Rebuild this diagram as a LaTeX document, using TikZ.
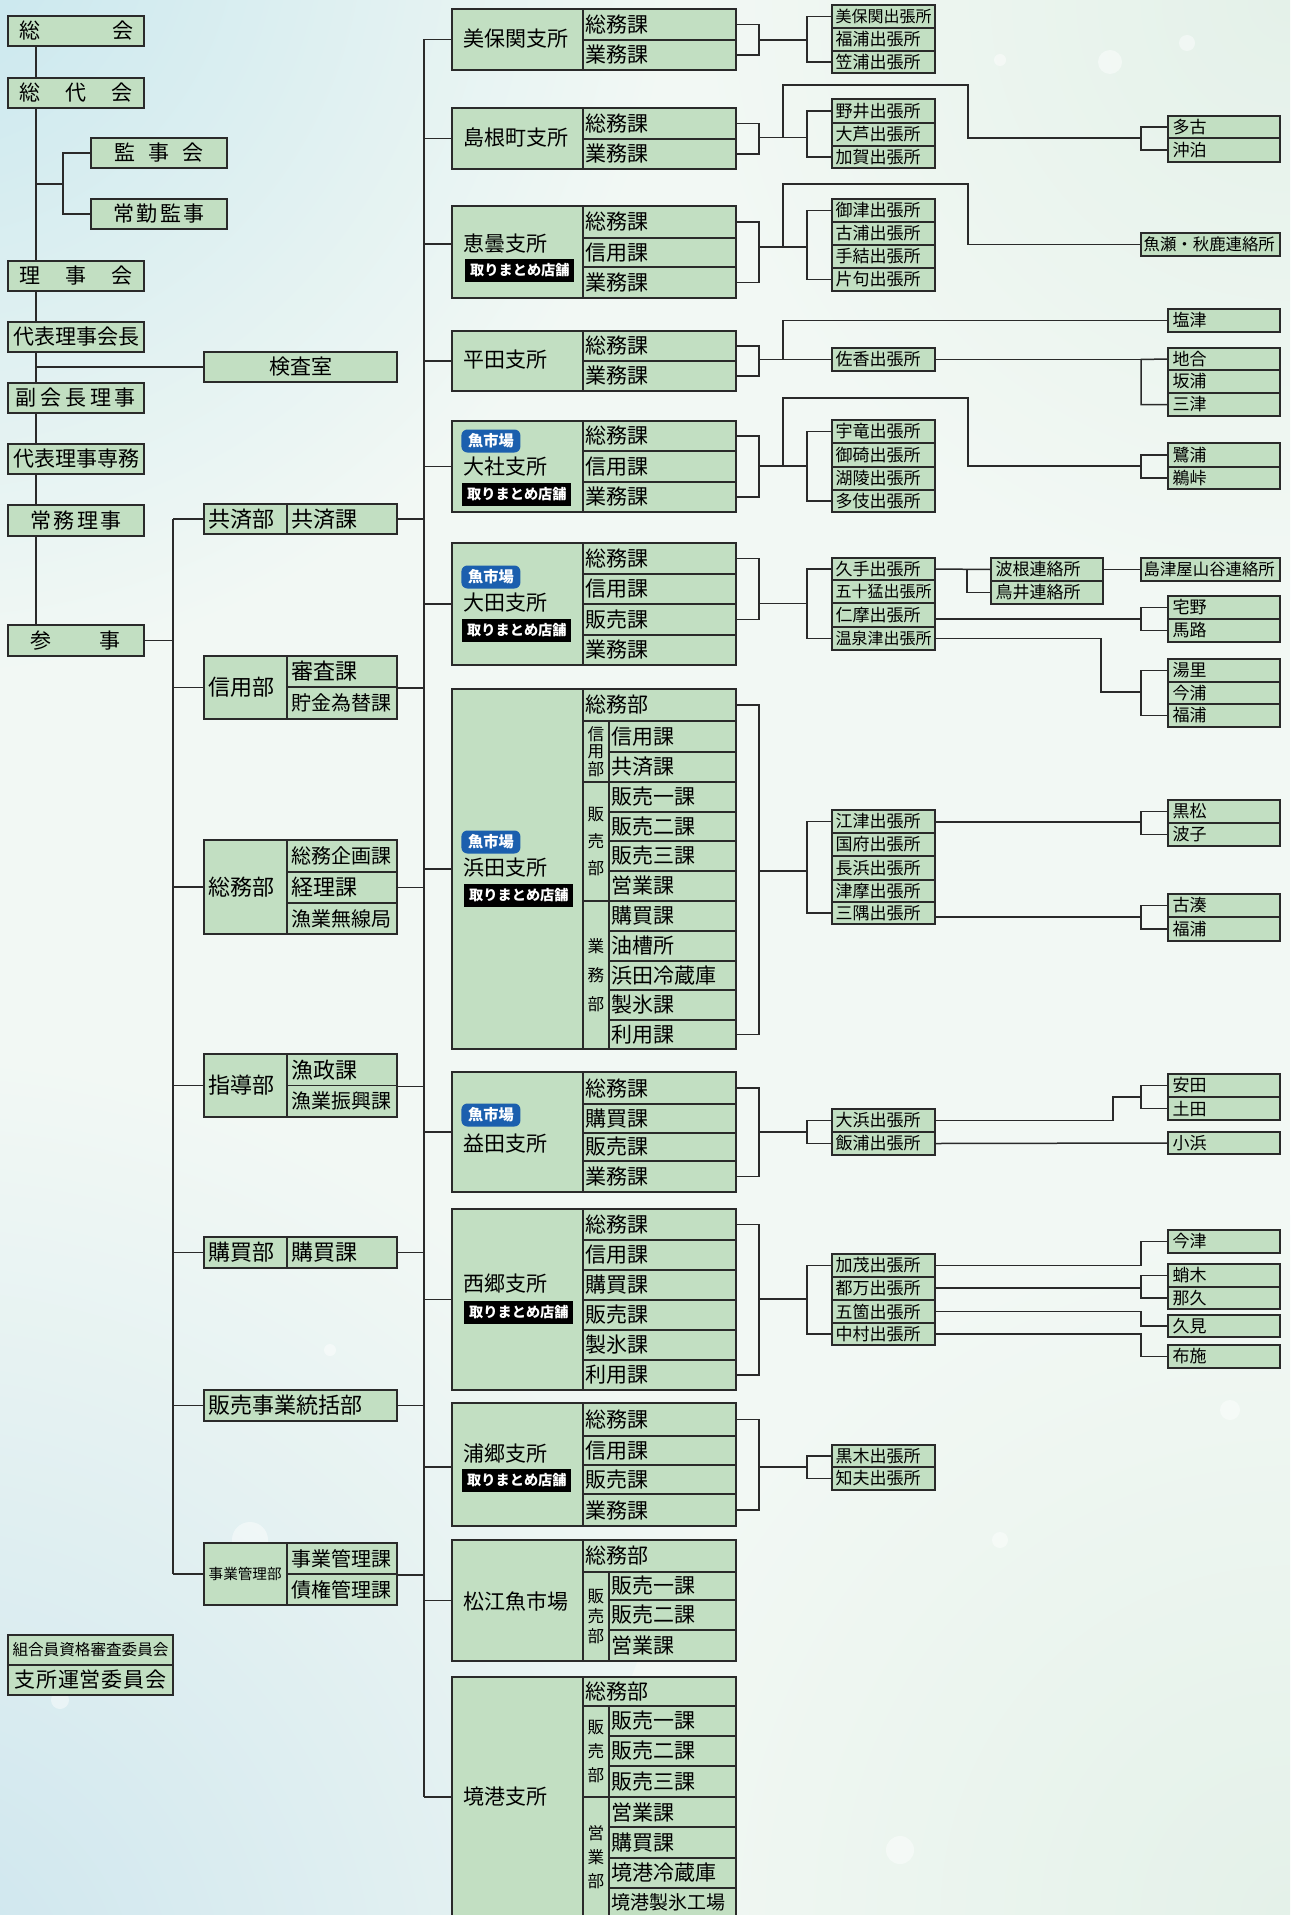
\documentclass[tikz,border=0pt]{standalone}
\usepackage{fontspec}
\setmainfont{Noto Sans CJK JP}
\usetikzlibrary{calc}
\definecolor{boxg}{HTML}{C2DFC2}
\definecolor{lc}{HTML}{2A2A2A}
\definecolor{fishb}{HTML}{1B5FAE}
\definecolor{bgz}{HTML}{F2F8F4}
\definecolor{bgcyan}{HTML}{C6E6EE}
\definecolor{bgblue}{HTML}{CCE5EE}
\definecolor{bggreen}{HTML}{E4F1E9}
\newcommand\mycell[6]{\node[cbox,minimum width={(#4-#2)*0.5pt},minimum height={(#5-#3)*0.5pt}] (#1) at ({(#2+#4)/2},{(#3+#5)/2}) {#6};}
\newcommand\mycellL[7][1.5pt]{\node[cbox,minimum width={(#5-#3)*0.5pt},minimum height={(#6-#4)*0.5pt}] (#2) at ({(#3+#5)/2},{(#4+#6)/2}) {};
 \node[anchor=west,inner sep=0pt] (#2t) at ([xshift=#1]#2.west) {#7};}
\newcommand\vtx[4]{\vbox{\fontsize{8.3}{#1}\selectfont\hbox{#2}\hbox{#3}\hbox{#4}}}
\begin{document}
\begin{tikzpicture}[x=0.5pt,y=-0.5pt,font=\fontsize{10.5}{12}\selectfont,
 cbox/.style={draw=lc,fill=boxg,line width=0.75pt,inner sep=0pt,rectangle},
 lnk/.style={draw=lc,line width=0.75pt},
 fish/.style={fill=fishb,text=white,rounded corners=3pt,minimum width=29.5pt,minimum height=11.5pt,inner sep=0pt,font=\fontsize{7.6}{8}\selectfont\bfseries},
 matome/.style={fill=black,text=white,minimum width=54.5pt,minimum height=11.5pt,inner sep=0pt,font=\fontsize{7.1}{8}\selectfont\bfseries},
 bname/.style={anchor=west,inner sep=0pt}]
\clip (0,0) rectangle (1290,1915);
% background
\fill[bgz] (0,0) rectangle (1290,1915);
\shade[inner color=bgcyan,outer color=bgz] (-80,-80) circle (760);
\shade[inner color=bgblue,outer color=bgz] (-100,2000) circle (950);
\shade[inner color=bggreen,outer color=bgz] (1290,1915) circle (700);
\shade[inner color=bggreen,outer color=bgz] (1290,0) circle (600);
\foreach \cx/\cy/\r in {1110/62/12,1187/43/8,1000/60/6,250/1540/18,900/1850/14,1230/1410/10,60/1700/9,330/1350/6,1000/1540/8}
  \fill[white,opacity=0.45] (\cx,\cy) circle (\r);
% reference coordinates
\coordinate (sp) at (36,0);
\coordinate (dx) at (173,0);
\coordinate (bx) at (424,0);
\coordinate (gb) at (1141,0);
% ---------- left column ----------
\mycell{a1}{8}{16}{144}{46}{\makebox[57pt]{総\hfill 会}}
\mycell{a2}{8}{78}{144}{108}{\makebox[57pt]{総\hfill 代\hfill 会}}
\mycell{a3}{91}{138}{227}{168}{\makebox[45pt]{監\hfill 事\hfill 会}}
\mycell{a4}{91}{199}{227}{229}{\makebox[45.5pt]{常\hfill 勤\hfill 監\hfill 事}}
\mycell{a5}{8}{261}{144}{291}{\makebox[57pt]{理\hfill 事\hfill 会}}
\mycell{a6}{8}{322}{144}{352}{代表理事会長}
\mycell{a7}{204}{352}{397}{382}{検査室}
\mycell{a8}{8}{383}{144}{413}{\makebox[60pt]{副\hfill 会\hfill 長\hfill 理\hfill 事}}
\mycell{a9}{8}{444}{144}{474}{代表理事専務}
\mycell{a10}{8}{505}{144}{536}{\makebox[45.5pt]{常\hfill 務\hfill 理\hfill 事}}
\mycell{a11}{8}{625}{144}{656}{\makebox[45pt]{参\hfill 事}}
\draw[lnk] (a1.south -| sp) -- (a2.north -| sp);
\draw[lnk] (a2.south -| sp) -- (a5.north -| sp);
\draw[lnk] (a5.south -| sp) -- (a6.north -| sp);
\draw[lnk] (a6.south -| sp) -- (a8.north -| sp);
\draw[lnk] (a8.south -| sp) -- (a9.north -| sp);
\draw[lnk] (a9.south -| sp) -- (a10.north -| sp);
\draw[lnk] (a10.south -| sp) -- (a11.north -| sp);
\coordinate (kj) at (36,184); \coordinate (kj2) at (63,184);
\draw[lnk] (kj) -- (kj2);
\draw[lnk] (a3.west) -| (kj2) |- (a4.west);
\draw[lnk] (sp |- a7.west) -- (a7.west);
% committees
\mycell{c1}{8}{1635}{173}{1665}{\fontsize{7.8}{9}\selectfont 組合員資格審査委員会}
\mycell{c2}{8}{1665}{173}{1695}{\makebox[76pt]{支\hfill 所\hfill 運\hfill 営\hfill 委\hfill 員\hfill 会}}
% ---------- departments ----------
\begin{scope}[font=\fontsize{11}{12}\selectfont]
\mycellL[2.5pt]{d1l}{204}{504}{287}{534}{共済部}
\mycellL[2.5pt]{d1r}{287}{504}{397}{534}{共済課}
\mycellL[2.5pt]{d2l}{204}{656}{287}{719}{信用部}
\mycellL[2.5pt]{d2a}{287}{656}{397}{687}{審査課}
\mycellL[2.5pt]{d2b}{287}{687}{397}{719}{\fontsize{10}{12}\selectfont 貯金為替課}
\mycellL[2.5pt]{d3l}{204}{840}{287}{934}{総務部}
\mycellL[2.5pt]{d3a}{287}{840}{397}{872}{\fontsize{10}{12}\selectfont 総務企画課}
\mycellL[2.5pt]{d3b}{287}{872}{397}{903}{経理課}
\mycellL[2.5pt]{d3c}{287}{903}{397}{934}{\fontsize{10}{12}\selectfont 漁業無線局}
\mycellL[2.5pt]{d4l}{204}{1054}{287}{1117}{指導部}
\mycellL[2.5pt]{d4a}{287}{1054}{397}{1085.5}{漁政課}
\mycellL[2.5pt]{d4b}{287}{1085.5}{397}{1117}{\fontsize{10}{12}\selectfont 漁業振興課}
\mycellL[2.5pt]{d5l}{204}{1237}{287}{1268}{購買部}
\mycellL[2.5pt]{d5r}{287}{1237}{397}{1268}{購買課}
\mycellL[2.5pt]{d6}{204}{1390}{397}{1421}{販売事業統括部}
\mycellL[2.5pt]{d7l}{204}{1543}{287}{1605}{\fontsize{7.3}{9}\selectfont 事業管理部}
\mycellL[2.5pt]{d7a}{287}{1543}{397}{1574}{\fontsize{10}{12}\selectfont 事業管理課}
\mycellL[2.5pt]{d7b}{287}{1574}{397}{1605}{\fontsize{10}{12}\selectfont 債権管理課}
\end{scope}
\draw[lnk] (a11.east) -- (dx |- a11.east);
\draw[lnk] (dx |- d1l.west) -- (dx |- d7l.west);
\foreach \d in {d1l,d2l,d3l,d4l,d5l,d6,d7l} \draw[lnk] (dx |- \d.west) -- (\d.west);
\draw[lnk] (d1r.east) -- (bx |- d1r.east);
\draw[lnk] (d2a.south east) -- (bx |- d2a.south east);
\draw[lnk] (d3b.east) -- (bx |- d3b.east);
\draw[lnk] (d4a.south east) -- (bx |- d4a.south east);
\draw[lnk] (d5r.east) -- (bx |- d5r.east);
\draw[lnk] (d6.east) -- (bx |- d6.east);
\draw[lnk] (d7a.south east) -- (bx |- d7a.south east);
% ---------- branches ----------
% B1
\mycell{b1n}{452}{9}{583}{70}{}
\node[bname] (b1t) at (463,39) {美保関支所};
\mycellL{b1a}{583}{9}{736}{40}{総務課}
\mycellL{b1b}{583}{40}{736}{70}{業務課}
% B2
\mycell{b2n}{452}{108}{583}{169}{}
\node[bname] (b2t) at (463,138) {島根町支所};
\mycellL{b2a}{583}{108}{736}{139}{総務課}
\mycellL{b2b}{583}{139}{736}{169}{業務課}
% B3
\mycell{b3n}{452}{206}{583}{298}{}
\node[bname] (b3t) at (463,244) {恵曇支所};
\node[matome,anchor=west] (b3m) at (465,270.5) {取りまとめ店舗};
\mycellL{b3a}{583}{206}{736}{238}{総務課}
\mycellL{b3b}{583}{238}{736}{267}{信用課}
\mycellL{b3c}{583}{267}{736}{298}{業務課}
% B4
\mycell{b4n}{452}{331}{583}{391}{}
\node[bname] (b4t) at (463,360) {平田支所};
\mycellL{b4a}{583}{331}{736}{361}{総務課}
\mycellL{b4b}{583}{361}{736}{391}{業務課}
% B5
\mycell{b5n}{452}{421}{583}{512}{}
\node[fish,anchor=west] (b5f) at (461,441) {魚市場};
\node[bname] (b5t) at (463,467) {大社支所};
\node[matome,anchor=west] (b5m) at (462,494) {取りまとめ店舗};
\mycellL{b5a}{583}{421}{736}{451}{総務課}
\mycellL{b5b}{583}{451}{736}{482}{信用課}
\mycellL{b5c}{583}{482}{736}{512}{業務課}
% B6
\mycell{b6n}{452}{543}{583}{665}{}
\node[fish,anchor=west] (b6f) at (461,577) {魚市場};
\node[bname] (b6t) at (463,603) {大田支所};
\node[matome,anchor=west] (b6m) at (462,630) {取りまとめ店舗};
\mycellL{b6a}{583}{543}{736}{574}{総務課}
\mycellL{b6b}{583}{574}{736}{604}{信用課}
\mycellL{b6c}{583}{604}{736}{635}{販売課}
\mycellL{b6d}{583}{635}{736}{665}{業務課}
% B7 Hamada
\mycell{b7n}{452}{689}{583}{1049}{}
\node[fish,anchor=west] (b7f) at (461,842) {魚市場};
\node[bname] (b7t) at (463,868) {浜田支所};
\node[matome,anchor=west] (b7m) at (464,895) {取りまとめ店舗};
\mycellL{b7a}{583}{689}{736}{721}{総務部}
\mycell{b7s1}{583}{721}{609}{782}{\vtx{8.7pt}{信}{用}{部}}
\mycell{b7s2}{583}{782}{609}{901}{\vtx{13.5pt}{販}{売}{部}}
\mycell{b7s3}{583}{901}{609}{1049}{\vtx{14.5pt}{業}{務}{部}}
\mycellL{b7r1}{609}{721}{736}{752}{信用課}
\mycellL{b7r2}{609}{752}{736}{782}{共済課}
\mycellL{b7r3}{609}{782}{736}{812}{販売一課}
\mycellL{b7r4}{609}{812}{736}{841}{販売二課}
\mycellL{b7r5}{609}{841}{736}{871}{販売三課}
\mycellL{b7r6}{609}{871}{736}{901}{営業課}
\mycellL{b7r7}{609}{901}{736}{931}{購買課}
\mycellL{b7r8}{609}{931}{736}{961}{油槽所}
\mycellL{b7r9}{609}{961}{736}{990}{浜田冷蔵庫}
\mycellL{b7r10}{609}{990}{736}{1020}{製氷課}
\mycellL{b7r11}{609}{1020}{736}{1049}{利用課}
% B8 Masuda
\mycell{b8n}{452}{1072}{583}{1192}{}
\node[fish,anchor=west] (b8f) at (461,1115) {魚市場};
\node[bname] (b8t) at (463,1144) {益田支所};
\mycellL{b8a}{583}{1072}{736}{1104}{総務課}
\mycellL{b8b}{583}{1104}{736}{1133}{購買課}
\mycellL{b8c}{583}{1133}{736}{1161}{販売課}
\mycellL{b8d}{583}{1161}{736}{1192}{業務課}
% B9 Saigo
\mycell{b9n}{452}{1209}{583}{1390}{}
\node[bname] (b9t) at (463,1284) {西郷支所};
\node[matome,anchor=west] (b9m) at (464,1312) {取りまとめ店舗};
\mycellL{b9a}{583}{1209}{736}{1240}{総務課}
\mycellL{b9b}{583}{1240}{736}{1270}{信用課}
\mycellL{b9c}{583}{1270}{736}{1300}{購買課}
\mycellL{b9d}{583}{1300}{736}{1330}{販売課}
\mycellL{b9e}{583}{1330}{736}{1360}{製氷課}
\mycellL{b9f}{583}{1360}{736}{1390}{利用課}
% B10 Urago
\mycell{b10n}{452}{1403}{583}{1526}{}
\node[bname] (b10t) at (463,1454) {浦郷支所};
\node[matome,anchor=west] (b10m) at (462,1480) {取りまとめ店舗};
\mycellL{b10a}{583}{1403}{736}{1436}{総務課}
\mycellL{b10b}{583}{1436}{736}{1465}{信用課}
\mycellL{b10c}{583}{1465}{736}{1494}{販売課}
\mycellL{b10d}{583}{1494}{736}{1526}{業務課}
% B11 Matsue
\mycell{b11n}{452}{1540}{583}{1661}{}
\node[bname] (b11t) at (463,1601) {松江魚市場};
\mycellL{b11a}{583}{1540}{736}{1572}{総務部}
\mycell{b11s}{583}{1572}{609}{1661}{\vtx{10pt}{販}{売}{部}}
\mycellL{b11r1}{609}{1572}{736}{1600}{販売一課}
\mycellL{b11r2}{609}{1600}{736}{1630}{販売二課}
\mycellL{b11r3}{609}{1630}{736}{1661}{営業課}
% B12 Sakaiminato
\mycell{b12n}{452}{1677}{583}{1917}{}
\node[bname] (b12t) at (463,1797) {境港支所};
\mycellL{b12a}{583}{1677}{736}{1706}{総務部}
\mycell{b12s1}{583}{1706}{609}{1797}{\vtx{12pt}{販}{売}{部}}
\mycell{b12s2}{583}{1797}{609}{1917}{\vtx{12pt}{営}{業}{部}}
\mycellL{b12r1}{609}{1706}{736}{1736}{販売一課}
\mycellL{b12r2}{609}{1736}{736}{1766}{販売二課}
\mycellL{b12r3}{609}{1766}{736}{1797}{販売三課}
\mycellL{b12r4}{609}{1797}{736}{1827}{営業課}
\mycellL{b12r5}{609}{1827}{736}{1858}{購買課}
\mycellL{b12r6}{609}{1858}{736}{1888}{境港冷蔵庫}
\mycellL{b12r7}{609}{1888}{736}{1917}{\fontsize{9.5}{11}\selectfont 境港製氷工場}
% branch trunk
\draw[lnk] (bx |- b1n.west) -- (bx |- b12t.west);
\foreach \b in {b1n,b2n,b4n,b5n,b6n,b7n,b8n,b9n,b11n} \draw[lnk] (bx |- \b.west) -- (\b.west);
\draw[lnk] (bx |- b3t.west) -- (b3t.west -| b3n.west);
\draw[lnk] (bx |- b10t.west) ++(0,13) -- ($(b10n.west)+(0,2.5)$);
\draw[lnk] (bx |- b12t.west) -- (b12t.west -| b12n.west);
% ---------- sub offices ----------
\begin{scope}[font=\fontsize{8.5}{10}\selectfont]
\mycellL[2pt]{s1a}{832}{5}{935}{28}{\fontsize{8}{10}\selectfont 美保関出張所}
\mycellL[2pt]{s1b}{832}{28}{935}{51}{福浦出張所}
\mycellL[2pt]{s1c}{832}{51}{935}{73}{笠浦出張所}
\mycellL[2pt]{s2a}{832}{99}{935}{123}{野井出張所}
\mycellL[2pt]{s2b}{832}{123}{935}{146}{大芦出張所}
\mycellL[2pt]{s2c}{832}{146}{935}{168}{加賀出張所}
\mycellL[2pt]{s3a}{832}{199}{935}{222}{御津出張所}
\mycellL[2pt]{s3b}{832}{222}{935}{245}{古浦出張所}
\mycellL[2pt]{s3c}{832}{245}{935}{268}{手結出張所}
\mycellL[2pt]{s3d}{832}{268}{935}{291}{片句出張所}
\mycellL[2pt]{s4}{832}{348}{935}{371}{佐香出張所}
\mycellL[2pt]{s5a}{832}{420}{935}{443}{宇竜出張所}
\mycellL[2pt]{s5b}{832}{443}{935}{467}{御碕出張所}
\mycellL[2pt]{s5c}{832}{467}{935}{490}{湖陵出張所}
\mycellL[2pt]{s5d}{832}{490}{935}{512}{多伎出張所}
\mycellL[2pt]{s6a}{832}{558}{935}{580}{久手出張所}
\mycellL[2pt]{s6b}{832}{580}{935}{603}{\fontsize{8}{10}\selectfont 五十猛出張所}
\mycellL[2pt]{s6c}{832}{603}{935}{627}{仁摩出張所}
\mycellL[2pt]{s6d}{832}{627}{935}{650}{\fontsize{8}{10}\selectfont 温泉津出張所}
\mycellL[2pt]{s7a}{832}{810}{935}{833}{江津出張所}
\mycellL[2pt]{s7b}{832}{833}{935}{856}{国府出張所}
\mycellL[2pt]{s7c}{832}{856}{935}{880}{長浜出張所}
\mycellL[2pt]{s7d}{832}{880}{935}{902}{津摩出張所}
\mycellL[2pt]{s7e}{832}{902}{935}{924}{三隅出張所}
\mycellL[2pt]{s8a}{832}{1109}{935}{1132}{大浜出張所}
\mycellL[2pt]{s8b}{832}{1132}{935}{1155}{飯浦出張所}
\mycellL[2pt]{s9a}{832}{1254}{935}{1277}{加茂出張所}
\mycellL[2pt]{s9b}{832}{1277}{935}{1300}{都万出張所}
\mycellL[2pt]{s9c}{832}{1300}{935}{1323}{五箇出張所}
\mycellL[2pt]{s9d}{832}{1323}{935}{1345}{中村出張所}
\mycellL[2pt]{s10a}{832}{1445}{935}{1467}{黒木出張所}
\mycellL[2pt]{s10b}{832}{1467}{935}{1490}{知夫出張所}
% liaison
\mycellL[2.5pt]{l1}{991}{558}{1103}{581}{波根連絡所}
\mycellL[2.5pt]{l2}{991}{581}{1103}{604}{鳥井連絡所}
% far right
\mycellL[2.5pt]{t2a}{1168}{116}{1280}{138}{多古}
\mycellL[2.5pt]{t2b}{1168}{138}{1280}{162}{沖泊}
\mycellL[1.5pt]{t3}{1141}{233}{1280}{256}{\fontsize{8.2}{10}\selectfont 魚瀬・秋鹿連絡所}
\mycellL[2.5pt]{t4s}{1168}{309}{1280}{332}{塩津}
\mycellL[2.5pt]{t4a}{1168}{348}{1280}{370}{地合}
\mycellL[2.5pt]{t4b}{1168}{370}{1280}{393}{坂浦}
\mycellL[2.5pt]{t4c}{1168}{393}{1280}{416}{三津}
\mycellL[2.5pt]{t5a}{1168}{443}{1280}{467}{鷺浦}
\mycellL[2.5pt]{t5b}{1168}{467}{1280}{489}{鵜峠}
\mycellL[1.5pt]{t6}{1141}{558}{1280}{581}{\fontsize{8.2}{10}\selectfont 島津屋山谷連絡所}
\mycellL[2.5pt]{t6a}{1168}{596}{1280}{619}{宅野}
\mycellL[2.5pt]{t6b}{1168}{619}{1280}{642}{馬路}
\mycellL[2.5pt]{t7a}{1168}{659}{1280}{682}{湯里}
\mycellL[2.5pt]{t7b}{1168}{682}{1280}{704}{今浦}
\mycellL[2.5pt]{t7c}{1168}{704}{1280}{727}{福浦}
\mycellL[2.5pt]{t8a}{1168}{800}{1280}{823}{黒松}
\mycellL[2.5pt]{t8b}{1168}{823}{1280}{846}{波子}
\mycellL[2.5pt]{t9a}{1168}{894}{1280}{917}{古湊}
\mycellL[2.5pt]{t9b}{1168}{917}{1280}{941}{福浦}
\mycellL[2.5pt]{t10a}{1168}{1074}{1280}{1097}{安田}
\mycellL[2.5pt]{t10b}{1168}{1097}{1280}{1120}{土田}
\mycellL[2.5pt]{t11}{1168}{1132}{1280}{1154}{小浜}
\mycellL[2.5pt]{t12}{1168}{1230}{1280}{1253}{今津}
\mycellL[2.5pt]{t13a}{1168}{1264}{1280}{1287}{蛸木}
\mycellL[2.5pt]{t13b}{1168}{1287}{1280}{1309}{那久}
\mycellL[2.5pt]{t14}{1168}{1315}{1280}{1337}{久見}
\mycellL[2.5pt]{t15}{1168}{1345}{1280}{1368}{布施}
\end{scope}
% ---------- branch brackets ----------
% B1
\coordinate (m1) at (759,40); \coordinate (j1) at (807,40);
\draw[lnk] (b1a.east) -| (m1) |- (b1b.east);
\draw[lnk] (m1) -- (j1);
\draw[lnk] (s1a.west) -| (j1) |- (s1c.west);
% B2
\coordinate (m2) at (759,137.5); \coordinate (j2) at (807,137.5); \coordinate (k2) at (783,137.5); \coordinate (g2) at (1141,138);
\draw[lnk] (b2a.east) -| (m2) |- (b2b.east);
\draw[lnk] (m2) -- (j2);
\draw[lnk] (s2a.west) -| (j2) |- (s2c.west);
\draw[lnk] (k2) |- (968,85) |- (g2);
\draw[lnk] (t2a.west) -| (g2) |- (t2b.west);
% B3
\coordinate (m3) at (759,247); \coordinate (j3) at (807,247); \coordinate (k3) at (783,247);
\draw[lnk] (b3a.east) -| (m3) |- (b3c.east);
\draw[lnk] (m3) -- (j3);
\draw[lnk] (s3a.west) -| (j3) |- (s3d.west);
\draw[lnk] (k3) |- (968,184) |- (t3.west);
% B4
\coordinate (m4) at (759,359.5); \coordinate (k4) at (783,359.5); \coordinate (g4) at (1141,359.5);
\draw[lnk] (b4a.east) -| (m4) |- (b4b.east);
\draw[lnk] (m4) -- (s4.west);
\draw[lnk] (k4) |- (t4s.west);
\draw[lnk] (s4.east) -- (g4);
\draw[lnk] (t4a.west) -- (g4) |- (t4c.west);
% B5
\coordinate (m5) at (759,466); \coordinate (j5) at (807,466); \coordinate (k5) at (783,466); \coordinate (g5) at (1141,466);
\draw[lnk] (b5a.east) -| (m5) |- (b5c.east);
\draw[lnk] (m5) -- (j5);
\draw[lnk] (s5a.west) -| (j5) |- (s5d.west);
\draw[lnk] (k5) |- (968,398) |- (g5);
\draw[lnk] (t5a.west) -| (g5) |- (t5b.west);
% B6
\coordinate (m6) at (759,603.5); \coordinate (j6) at (807,603.5);
\draw[lnk] (b6a.east) -| (m6) |- (b6c.east);
\draw[lnk] (m6) -- (j6);
\draw[lnk] (s6a.west) -| (j6) |- (s6d.west);
\coordinate (h6) at (967,569);
\draw[lnk] (s6a.east) -- (l1.west);
\draw[lnk] (h6) |- (l2.west);
\draw[lnk] (l1.east) -- (t6.west);
\coordinate (g6) at (1141,619);
\draw[lnk] (g6 -| s6c.east) -- (g6);
\draw[lnk] (t6a.west) -| (g6) |- (t6b.west);
\coordinate (g7) at (1141,692);
\draw[lnk] (s6d.east) -| (1101,692) -- (g7);
\draw[lnk] (t7a.west) -| (g7) |- (t7c.west);
% B7
\coordinate (m7) at (759,871); \coordinate (j7) at (807,871);
\draw[lnk] (b7a.east) -| (m7) |- (b7r11.east);
\draw[lnk] (m7) -- (j7);
\draw[lnk] (s7a.west) -| (j7) |- (s7e.west);
\coordinate (g8) at (1141,822);
\draw[lnk] (g8 -| s7a.east) -- (g8);
\draw[lnk] (t8a.west) -| (g8) |- (t8b.west);
\coordinate (g9) at (1141,917);
\draw[lnk] (g9 -| s7e.east) -- (g9);
\draw[lnk] (t9a.west) -| (g9) |- (t9b.west);
% B8
\coordinate (m8) at (759,1132); \coordinate (j8) at (807,1132);
\draw[lnk] (b8a.east) -| (m8) |- (b8d.east);
\draw[lnk] (m8) -- (j8);
\draw[lnk] (s8a.west) -| (j8) |- (s8b.west);
\coordinate (g10) at (1141,1097);
\draw[lnk] (s8a.east) -| (1113,1097) -- (g10);
\draw[lnk] (t10a.west) -| (g10) |- (t10b.west);
\draw[lnk] (s8b.east) -- (t11.west);
% B9
\coordinate (m9) at (759,1299); \coordinate (j9) at (807,1299);
\draw[lnk] (b9a.east) -| (m9) |- (b9f.east);
\draw[lnk] (m9) -- (j9);
\draw[lnk] (s9a.west) -| (j9) |- (s9d.west);
\draw[lnk] (s9a.east) -| (gb |- t12.west) -- (t12.west);
\coordinate (g13) at (1141,1288);
\draw[lnk] (g13 -| s9b.east) -- (g13);
\draw[lnk] (t13a.west) -| (g13) |- (t13b.west);
\draw[lnk] (s9c.east) -| (gb |- t14.west) -- (t14.west);
\draw[lnk] (s9d.east) -| (gb |- t15.west) -- (t15.west);
% B10
\coordinate (m10) at (759,1467); \coordinate (j10) at (807,1467);
\draw[lnk] (b10a.east) -| (m10) |- (b10d.east);
\draw[lnk] (m10) -- (j10);
\draw[lnk] (s10a.west) -| (j10) |- (s10b.west);
\end{tikzpicture}
\end{document}
